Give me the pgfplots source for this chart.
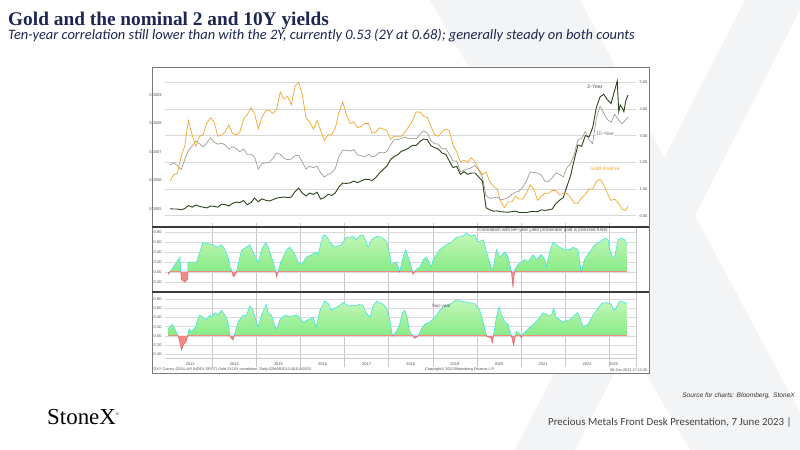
\documentclass[border=0pt]{standalone}
\usepackage{pgfplots}
\usepackage{pgfplotstable}
\pgfplotsset{compat=1.18}
\usepackage{fontspec}
\setmainfont{Liberation Serif}
\setsansfont{Liberation Sans}
\newfontfamily\carlito{Carlito}
\definecolor{navy}{HTML}{1C2752}
\definecolor{goldc}{HTML}{F4A62A}
\definecolor{tenc}{HTML}{A39C97}
\definecolor{twoc}{HTML}{2C4419}
\definecolor{gtop}{HTML}{C4F7BA}
\definecolor{gbot}{HTML}{70E670}
\definecolor{cyanedge}{HTML}{3FE6E0}
\definecolor{redfill}{HTML}{F28A8A}
\definecolor{rededge}{HTML}{E06060}
\definecolor{wm}{HTML}{F3F4F6}
\definecolor{gridc}{HTML}{D9D9D9}
\definecolor{vgridc}{HTML}{C8C8C8}
\definecolor{labc}{HTML}{505050}
\definecolor{boxc}{HTML}{7A7A7A}
\definecolor{sepc}{HTML}{3A3A3A}

\pgfplotstableread{
m v
0.5 0.000599
1.5 0.000620
2.5 0.000625
3.5 0.000685
4.5 0.000720
5.5 0.000810
6.5 0.000760
7.5 0.000720
8.5 0.000755
9.5 0.000760
10.5 0.000800
11.5 0.000820
12.5 0.000805
13.5 0.000755
14.5 0.000760
15.5 0.000770
16.5 0.000795
17.5 0.000765
18.5 0.000760
19.5 0.000770
20.5 0.000815
21.5 0.000830
22.5 0.000855
23.5 0.000835
24.5 0.000780
25.5 0.000820
26.5 0.000845
27.5 0.000845
28.5 0.000835
29.5 0.000850
30.5 0.000910
31.5 0.000885
32.5 0.000895
33.5 0.000865
34.5 0.000930
35.5 0.000945
36.5 0.000900
37.5 0.000820
38.5 0.000805
39.5 0.000780
40.5 0.000810
41.5 0.000775
42.5 0.000740
43.5 0.000760
44.5 0.000760
45.5 0.000785
46.5 0.000840
47.5 0.000875
48.5 0.000830
49.5 0.000800
50.5 0.000805
51.5 0.000785
52.5 0.000790
53.5 0.000800
54.5 0.000800
55.5 0.000765
56.5 0.000770
57.5 0.000785
58.5 0.000780
59.5 0.000775
60.5 0.000745
61.5 0.000755
62.5 0.000755
63.5 0.000755
64.5 0.000770
65.5 0.000790
66.5 0.000810
67.5 0.000840
68.5 0.000840
69.5 0.000825
70.5 0.000820
71.5 0.000790
72.5 0.000760
73.5 0.000755
74.5 0.000770
75.5 0.000780
76.5 0.000775
77.5 0.000725
78.5 0.000700
79.5 0.000665
80.5 0.000670
81.5 0.000665
82.5 0.000680
83.5 0.000665
84.5 0.000640
85.5 0.000620
86.5 0.000630
87.5 0.000595
88.5 0.000580
89.5 0.000570
90.5 0.000525
91.5 0.000505
92.5 0.000525
93.5 0.000525
94.5 0.000545
95.5 0.000535
96.5 0.000535
97.5 0.000555
98.5 0.000585
99.5 0.000570
100.5 0.000530
101.5 0.000545
102.5 0.000555
103.5 0.000555
104.5 0.000565
105.5 0.000565
106.5 0.000550
107.5 0.000555
108.5 0.000555
109.5 0.000540
110.5 0.000520
111.5 0.000520
112.5 0.000540
113.5 0.000550
114.5 0.000570
115.5 0.000570
116.5 0.000595
117.5 0.000605
118.5 0.000585
119.5 0.000555
120.5 0.000530
121.5 0.000535
122.5 0.000520
123.5 0.000500
124.5 0.000495
125.1 0.000510
}\goldinv

\pgfplotstableread{
m v
0.5 1.90
1.5 1.98
2.5 1.88
3.5 1.72
4.5 2.10
5.5 2.45
6.5 2.60
7.5 2.80
8.5 2.70
9.5 2.58
10.5 2.72
11.5 2.92
12.5 2.75
13.5 2.68
14.5 2.72
15.5 2.65
16.5 2.50
17.5 2.58
18.5 2.52
19.5 2.40
20.5 2.50
21.5 2.30
22.5 2.30
23.5 2.20
24.5 1.75
25.5 1.95
26.5 1.98
27.5 2.00
28.5 2.15
29.5 2.35
30.5 2.30
31.5 2.15
32.5 2.10
33.5 2.12
34.5 2.25
35.5 2.26
36.5 2.00
37.5 1.75
38.5 1.85
39.5 1.80
40.5 1.85
41.5 1.60
42.5 1.45
43.5 1.55
44.5 1.60
45.5 1.78
46.5 2.25
47.5 2.45
48.5 2.45
49.5 2.42
50.5 2.48
51.5 2.28
52.5 2.25
53.5 2.20
54.5 2.30
55.5 2.20
56.5 2.25
57.5 2.38
58.5 2.35
59.5 2.40
60.5 2.65
61.5 2.85
62.5 2.85
63.5 2.90
64.5 2.95
65.5 2.88
66.5 2.90
67.5 2.88
68.5 3.05
69.5 3.18
70.5 3.10
71.5 2.80
72.5 2.70
73.5 2.68
74.5 2.50
75.5 2.52
76.5 2.30
77.5 2.05
78.5 2.05
79.5 1.65
80.5 1.70
81.5 1.75
82.5 1.80
83.5 1.88
84.5 1.70
85.5 1.45
86.5 0.75
87.5 0.65
88.5 0.67
89.5 0.70
90.5 0.60
91.5 0.62
92.5 0.68
93.5 0.80
94.5 0.88
95.5 0.92
96.5 1.08
97.5 1.30
98.5 1.65
99.5 1.62
100.5 1.60
101.5 1.52
102.5 1.30
103.5 1.28
104.5 1.42
105.5 1.60
106.5 1.55
107.5 1.45
108.5 1.80
109.5 1.95
110.5 2.30
111.5 2.85
112.5 2.90
113.5 3.15
114.5 2.85
115.5 2.70
116.5 3.65
117.5 4.10
118.5 3.85
119.5 3.60
120.5 3.50
121.5 3.80
122.5 3.60
123.5 3.45
124.5 3.60
125.1 3.70
}\tenY

\pgfplotstableread{
m v
0.5 0.26
1.5 0.25
2.5 0.25
3.5 0.22
4.5 0.27
5.5 0.38
6.5 0.32
7.5 0.40
8.5 0.35
9.5 0.32
10.5 0.29
11.5 0.36
12.5 0.35
13.5 0.32
14.5 0.43
15.5 0.42
16.5 0.36
17.5 0.46
18.5 0.51
19.5 0.49
20.5 0.57
21.5 0.41
22.5 0.49
23.5 0.66
24.5 0.52
25.5 0.63
26.5 0.58
27.5 0.55
28.5 0.60
29.5 0.66
30.5 0.68
31.5 0.70
32.5 0.68
33.5 0.70
34.5 0.90
35.5 1.03
36.5 0.85
37.5 0.74
38.5 0.85
39.5 0.80
40.5 0.88
41.5 0.62
42.5 0.68
43.5 0.80
44.5 0.76
45.5 0.86
46.5 1.09
47.5 1.22
48.5 1.21
49.5 1.23
50.5 1.30
51.5 1.24
52.5 1.30
53.5 1.36
54.5 1.36
55.5 1.32
56.5 1.43
57.5 1.60
58.5 1.73
59.5 1.86
60.5 2.10
61.5 2.22
62.5 2.29
63.5 2.42
64.5 2.47
65.5 2.54
66.5 2.64
67.5 2.63
68.5 2.78
69.5 2.87
70.5 2.85
71.5 2.62
72.5 2.55
73.5 2.50
74.5 2.35
75.5 2.30
76.5 2.05
77.5 1.80
78.5 1.85
79.5 1.55
80.5 1.65
81.5 1.55
82.5 1.60
83.5 1.60
84.5 1.45
85.5 1.30
86.5 0.30
87.5 0.22
88.5 0.17
89.5 0.18
90.5 0.15
91.5 0.14
92.5 0.13
93.5 0.15
94.5 0.17
95.5 0.12
96.5 0.12
97.5 0.12
98.5 0.15
99.5 0.16
100.5 0.15
101.5 0.22
102.5 0.20
103.5 0.22
104.5 0.25
105.5 0.45
106.5 0.58
107.5 0.68
108.5 1.10
109.5 1.50
110.5 2.10
111.5 2.65
112.5 2.60
113.5 3.00
114.5 2.95
115.5 3.30
116.5 4.05
117.5 4.45
118.5 4.55
119.5 4.35
120.5 4.20
121.5 4.70
122.2 5.05
122.6 3.90
123.0 4.15
123.5 4.05
124.0 3.90
124.5 4.30
125.1 4.52
}\twoY

\pgfplotstableread{
m v
0.0 -0.05
1.4 0.10
2.3 0.20
3.2 0.30
3.4 0.02
3.6 -0.15
4.5 -0.20
5.3 -0.15
5.4 0.20
7.7 0.20
9.5 0.60
10.4 0.58
12.2 0.55
13.2 0.50
14.5 0.55
15.4 0.45
16.3 0.30
16.8 0.10
17.2 0.05
17.7 -0.10
18.3 -0.05
18.6 0.00
19.5 0.30
20.0 0.45
21.3 0.50
22.2 0.55
23.1 0.40
24.0 0.25
24.5 0.20
25.4 0.45
26.6 0.60
27.2 0.50
28.1 0.30
29.0 0.10
29.5 -0.10
29.9 0.00
30.6 0.20
31.3 0.30
32.2 0.45
33.1 0.50
34.5 0.35
35.4 0.20
36.3 0.15
37.6 0.30
39.0 0.35
40.3 0.40
40.8 0.35
41.3 0.50
42.2 0.75
43.1 0.72
44.0 0.60
44.7 0.55
45.3 0.50
47.1 0.55
48.5 0.70
49.4 0.70
50.3 0.72
51.2 0.65
52.1 0.73
53.0 0.75
53.9 0.60
54.4 0.50
55.3 0.65
56.7 0.72
58.0 0.70
59.4 0.62
60.3 0.35
60.7 0.15
62.1 0.20
63.0 0.00
63.9 0.30
64.6 0.45
65.3 0.30
66.2 0.10
66.6 -0.05
67.5 0.05
68.5 0.10
69.4 0.25
70.3 0.30
71.6 0.10
72.1 0.25
73.9 0.45
75.7 0.55
77.1 0.60
78.4 0.70
80.2 0.72
81.1 0.78
82.5 0.72
83.4 0.75
84.3 0.60
85.7 0.65
87.0 0.30
87.9 0.10
88.4 0.05
89.3 0.45
90.2 0.30
91.6 0.40
92.5 0.30
93.4 0.00
93.8 -0.30
94.3 0.05
95.2 0.15
96.1 0.20
97.0 0.25
97.9 0.20
99.3 0.35
100.2 0.25
101.5 0.35
102.5 0.25
102.9 0.10
103.8 0.40
104.7 0.60
105.6 0.55
106.5 0.50
107.9 0.45
109.3 0.45
110.2 0.50
111.5 0.45
112.4 0.00
113.3 0.25
114.7 0.40
116.1 0.55
117.4 0.60
118.8 0.68
119.7 0.65
120.1 0.45
121.0 0.30
121.5 0.30
122.4 0.65
123.3 0.68
124.2 0.65
124.8 0.55
}\corrten

\pgfplotstableread{
m v
0.0 0.15
0.5 0.20
1.2 0.25
2.1 0.10
2.7 0.00
3.2 -0.15
3.6 -0.30
4.1 -0.20
5.0 -0.10
5.3 0.00
5.7 0.15
6.4 0.10
7.5 0.20
8.0 0.35
8.6 0.45
9.5 0.40
10.4 0.35
11.3 0.45
11.8 0.40
12.7 0.50
13.6 0.45
14.5 0.55
15.4 0.45
16.3 0.30
16.8 0.00
17.2 -0.05
17.7 -0.08
18.1 0.05
19.0 0.30
20.4 0.45
21.3 0.45
22.2 0.65
23.1 0.55
24.0 0.30
24.5 0.20
25.4 0.45
26.7 0.68
27.2 0.50
28.1 0.45
29.0 0.20
29.5 0.15
30.4 0.35
31.7 0.45
33.1 0.42
34.9 0.45
35.8 0.40
36.7 0.30
38.1 0.35
39.4 0.40
40.3 0.20
41.3 0.55
42.6 0.75
43.5 0.70
44.4 0.55
45.8 0.62
47.1 0.68
47.6 0.72
49.0 0.65
50.8 0.65
52.1 0.68
53.0 0.65
53.9 0.50
54.9 0.40
55.8 0.65
56.7 0.75
58.5 0.68
59.4 0.60
60.3 0.35
61.0 0.00
62.1 0.10
63.0 0.25
63.7 0.50
64.4 0.55
65.0 0.40
65.7 0.10
66.6 0.00
67.1 -0.05
68.0 0.00
68.9 0.15
69.8 0.25
71.2 0.30
72.5 0.40
73.9 0.55
75.7 0.65
77.1 0.70
78.4 0.78
79.8 0.75
81.6 0.72
83.4 0.70
84.8 0.55
85.7 0.30
86.6 0.00
87.9 -0.05
88.2 -0.15
88.7 0.10
89.3 0.40
90.0 0.62
90.7 0.45
91.6 0.30
92.5 0.25
93.4 0.00
94.0 -0.20
94.7 0.10
95.7 0.05
96.1 -0.05
96.6 0.05
97.9 0.15
99.3 0.25
100.6 0.35
102.0 0.50
103.4 0.45
104.3 0.45
104.9 0.60
105.6 0.40
107.4 0.30
109.3 0.35
110.6 0.45
111.5 0.50
112.9 0.20
114.2 0.25
115.6 0.45
117.0 0.60
117.9 0.70
119.2 0.72
120.6 0.68
121.2 0.55
121.9 0.60
122.8 0.75
124.2 0.72
124.8 0.70
}\corrtwo

\pgfplotsset{
  panelbase/.style={scale only axis, width=471bp, xmin=-0.87, xmax=127.3,
    anchor=south west, axis line style={draw=none},
    scaled y ticks=false, scaled x ticks=false,
    ticklabel style={font=\sffamily\fontsize{4}{4.5}\selectfont, text=labc},
    major tick length=0pt},
  fillonly/.style={scale only axis, width=471bp, xmin=-0.87, xmax=127.3,
    anchor=south west, hide axis, clip=true},
}

\begin{document}
\begin{tikzpicture}[x=1bp,y=1bp]
\useasboundingbox (0,0) rectangle (800,450);
\fill[white] (0,0) rectangle (800,450);
% watermark X
\fill[wm] (430,450) -- (580,450) -- (820,0) -- (690,0) -- cycle;
\fill[wm] (745,450) -- (805,450) -- (575,0) -- (515,0) -- cycle;

% titles
\node[anchor=base west, inner sep=0, text=navy, font=\fontsize{19.4}{21}\selectfont\bfseries] at (8,424.5) {Gold and the nominal 2 and 10Y yields};
\node[anchor=base west, inner sep=0, text=navy, font=\carlito\itshape\fontsize{14.5}{16}\selectfont] at (8,410.6) {Ten-year correlation still lower than with the 2Y, currently 0.53 (2Y at 0.68); generally steady on both counts};

% chart background
\fill[white] (152,77) rectangle (649,383);

% ---- top panel: yields (right axis) ----
\begin{axis}[panelbase, at={(165bp,224bp)}, height=159bp,
  ymin=-0.386, ymax=5.573, axis x line*=bottom, axis y line*=right,
  ytick={0,1,2,3,4,5}, yticklabels={0.00,1.00,2.00,3.00,4.00,5.00},
  ymajorgrids, y grid style={gridc, line width=0.5bp},
  xtick={12,24,36,48,60,72,84,96,108,120}, xticklabels={},
  major tick length=3bp, y tick style={draw=none},
  x tick style={draw=vgridc, line width=0.5bp}, xtick align=inside]
\addplot[tenc, line width=0.7bp] table[x=m,y=v]{\tenY};
\addplot[twoc, line width=0.9bp] table[x=m,y=v]{\twoY};
\end{axis}
% ---- top panel: gold inverse (left axis) ----
\begin{axis}[panelbase, at={(165bp,224bp)}, height=159bp,
  ymin=0.00044035, ymax=0.000998, axis y line*=left, xtick=\empty,
  ytick={0.0005,0.0006,0.0007,0.0008,0.0009},
  yticklabels={0.0005,0.0006,0.0007,0.0008,0.0009}]
\addplot[goldc, line width=0.7bp] table[x=m,y=v]{\goldinv};
\end{axis}

% ---- middle panel: correlation with 10Y ----
\begin{axis}[panelbase, at={(165bp,159bp)}, height=64bp,
  ymin=-0.383, ymax=0.907,
  ytick={-0.2,0,0.2,0.4,0.6,0.8}, yticklabels={-0.20,0.00,0.20,0.40,0.60,0.80},
  xtick={12,24,36,48,60,72,84,96,108,120}, xticklabels={},
  ymajorgrids, xmajorgrids, y grid style={gridc, line width=0.5bp},
  x grid style={vgridc, line width=0.5bp}]
\addplot[draw=none, forget plot] coordinates {(0,0)};
\end{axis}
\begin{axis}[fillonly, at={(165bp,178bp)}, height=45bp, ymin=0, ymax=0.907]
\addplot[draw=none, top color=gtop, bottom color=gbot] table[x=m,y=v]{\corrten} \closedcycle;
\addplot[cyanedge, line width=0.6bp] table[x=m,y=v]{\corrten};
\end{axis}
\begin{axis}[fillonly, at={(165bp,159bp)}, height=19bp, ymin=-0.383, ymax=0]
\addplot[draw=none, fill=redfill] table[x=m,y=v]{\corrten} \closedcycle;
\addplot[rededge, line width=0.5bp] table[x=m,y=v]{\corrten};
\end{axis}

% ---- bottom panel: correlation with 2Y ----
\begin{axis}[panelbase, at={(165bp,92bp)}, height=65bp,
  ymin=-0.473, ymax=0.925,
  ytick={-0.4,-0.2,0,0.2,0.4,0.6,0.8},
  yticklabels={-0.40,-0.20,0.00,0.20,0.40,0.60,0.80},
  xtick={12,24,36,48,60,72,84,96,108,120}, xticklabels={},
  ymajorgrids, xmajorgrids, y grid style={gridc, line width=0.5bp},
  x grid style={vgridc, line width=0.5bp},
  extra x ticks={6,18,30,42,54,66,78,90,102,114,121.2},
  extra x tick labels={2013,2014,2015,2016,2017,2018,2019,2020,2021,2022,2023},
  extra x tick style={grid=none, major tick length=0pt,
     xticklabel style={yshift=-1.5bp}}]
\addplot[draw=none, forget plot] coordinates {(0,0)};
\end{axis}
\begin{axis}[fillonly, at={(165bp,114bp)}, height=43bp, ymin=0, ymax=0.925]
\addplot[draw=none, top color=gtop, bottom color=gbot] table[x=m,y=v]{\corrtwo} \closedcycle;
\addplot[cyanedge, line width=0.6bp] table[x=m,y=v]{\corrtwo};
\end{axis}
\begin{axis}[fillonly, at={(165bp,92bp)}, height=22bp, ymin=-0.473, ymax=0]
\addplot[draw=none, fill=redfill] table[x=m,y=v]{\corrtwo} \closedcycle;
\addplot[rededge, line width=0.5bp] table[x=m,y=v]{\corrtwo};
\end{axis}

% chart decorations
\draw[vgridc, line width=0.6bp] (165,92) -- (636,92);
\draw[vgridc, line width=0.6bp] (636,223) -- (636,83);
\foreach \xx in {212.3,256.4,300.5,344.6,388.7,432.8,476.9,521.0,565.1,609.2}
  \draw[vgridc, line width=0.5bp] (\xx,92) -- (\xx,83);
\draw[boxc, line width=0.8bp] (152,77) rectangle (649,383);
\draw[sepc, line width=1.6bp] (152,223) -- (649,223);
\draw[sepc, line width=1.6bp] (152,158) -- (649,158);

% in-chart labels
\node[text=labc, font=\sffamily\fontsize{5.2}{6}\selectfont, inner sep=0.5bp] at (595,363.5) {2-Year};
\node[text=tenc!80!black, fill=white, font=\sffamily\fontsize{5.2}{6}\selectfont, inner sep=0.5bp] at (605,316) {10-Year};
\node[text=goldc, font=\sffamily\fontsize{5.2}{6}\selectfont, inner sep=0.5bp] at (605,281.7) {Gold Inverse};
\node[text=labc, font=\sffamily\fontsize{4.6}{5}\selectfont, inner sep=0.5bp] at (543,220) {Correlation with ten-year yield (remember gold is inversed here)};
\node[text=labc, font=\sffamily\fontsize{4.6}{5}\selectfont, inner sep=0.5bp] at (441,143.3) {Two-year};
\node[anchor=west, text=labc, font=\sffamily\fontsize{3.8}{4}\selectfont, inner sep=0] at (153.5,80) {DXY Curncy (DOLLAR INDEX SPOT) Gold 2Y10Y correlation \ Daily 02MAR2013-06JUN2023};
\node[text=labc, font=\sffamily\fontsize{3.8}{4}\selectfont, inner sep=0] at (460,80) {Copyright\textcopyright{} 2023 Bloomberg Finance L.P.};
\node[anchor=east, text=labc, font=\sffamily\fontsize{3.8}{4}\selectfont, inner sep=0] at (647.5,80) {06-Jun-2023 17:12:20};

% footer
\node[anchor=base west, inner sep=0, font=\fontsize{23}{25}\selectfont] at (47,25.5) {StoneX\textsuperscript{\fontsize{4}{4}\selectfont\textregistered}};
\node[anchor=east, inner sep=0, text=black!80, font=\sffamily\itshape\fontsize{6.6}{7}\selectfont] at (795,54) {Source for charts: Bloomberg,\, StoneX};
\node[anchor=west, inner sep=0, text=black!75, font=\carlito\fontsize{10.9}{12}\selectfont] at (548,28) {Precious Metals Front Desk Presentation, 7 June 2023 |};
\end{tikzpicture}
\end{document}
